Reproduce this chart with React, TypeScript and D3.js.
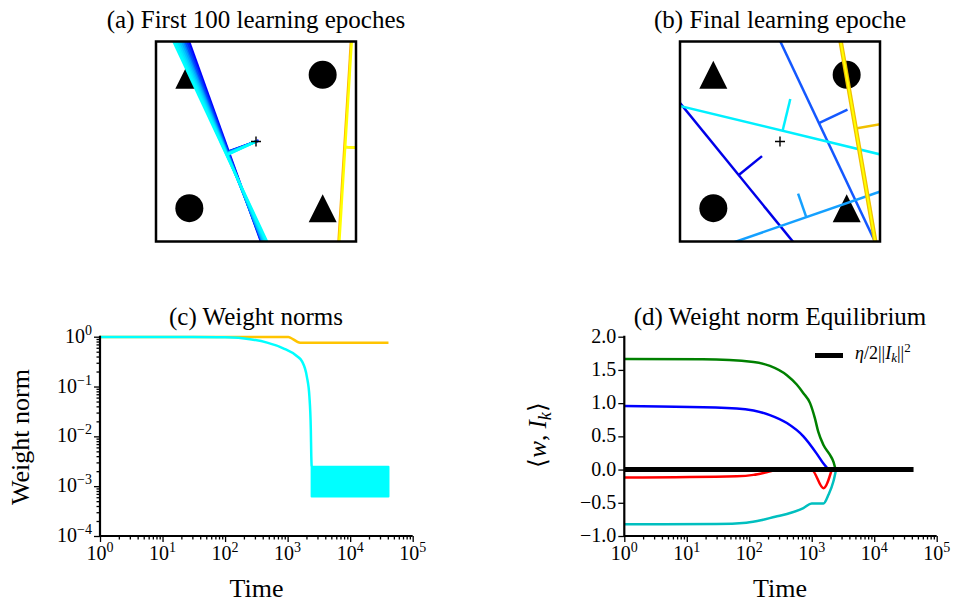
import React, { useRef, useEffect } from "react";
import * as d3 from "d3";

// (a) first 100 epochs: x where each boundary crosses the top (y=1.25) and bottom (y=-0.25) edge
const earlyTopX = [-0.0025, -0.0175, -0.0325, -0.0475, -0.059, -0.074, -0.089, -0.104, -0.119];
const earlyBottomX = [0.5375, 0.541, 0.545, 0.549, 0.5525, 0.56, 0.5675, 0.575, 0.5825];
const earlyColors = ["#0000ff", "#0028ff", "#0050ff", "#0080ff", "#00a8ff", "#00c8ff", "#00e0ff", "#00f2ff", "#00ffff"];
const yellowTopX = [1.212, 1.218];
const yellowBottomX = [1.119, 1.125];
const yellowColors = ["#ffb000", "#ffff00"];

// (b) final epoch: each boundary as two points, tick side (+1 = towards centre) and tick length
const finalX1 = [-0.2425, 0.5075, 0.2, -0.2425, 0.9575, 0.9575];
const finalY1 = [0.78, 1.2395, -0.24, 0.765, 1.235, 1.235];
const finalX2 = [0.588, 1.207, 1.2425, 1.2425, 1.2125, 1.2125];
const finalY2 = [-0.24, -0.24, 0.122, 0.405, -0.24, -0.24];
const finalSide = [1, -1, 1, -1, -1, -1];
const finalTick = [0.225, 0.237, 0.187, 0.245, 0.25, 0];
const finalColors = ["#0000e8", "#1458ff", "#14a0ff", "#00f0ff", "#f0c000", "#ffff00"];
const finalWidths = [2.5, 2.5, 2.5, 2.5, 4.5, 2];

// XOR points
const triangleX = [0, 1];
const triangleY = [1, 0];
const circleX = [1, 0];
const circleY = [1, 0];

// (c) weight norms
const goldT = [1, 1030, 1100, 1585, 41000];
const goldNorm = [0.99, 0.99, 0.96, 0.76, 0.76];
const cyanT = [1, 30, 100, 250, 470, 850, 1400, 1700, 2030, 2230, 2350, 2390, 2420];
const cyanNorm = [0.99, 0.985, 0.97, 0.89, 0.76, 0.585, 0.41, 0.32, 0.158, 0.063, 0.0136, 0.004, 0.0025];
const bandT = [2420, 41000];
const bandLow = [0.00062, 0.00062];
const bandHigh = [0.00245, 0.00245];

// (d) <w, I_k>
const greenT = [1, 18, 117, 214, 400, 575, 735, 940, 1125, 1270, 1540, 1960, 2220, 2410];
const greenV = [1.665, 1.66, 1.62, 1.56, 1.42, 1.28, 1.15, 1.0, 0.77, 0.57, 0.37, 0.22, 0.12, 0.0];
const blueT = [1, 63, 117, 214, 400, 735, 1200, 1540, 1850];
const blueV = [0.955, 0.92, 0.89, 0.82, 0.7, 0.5, 0.24, 0.09, 0.0];
const redT = [1, 63, 117, 190, 280, 1000, 1540, 2090];
const redV = [-0.12, -0.1, -0.08, -0.04, -0.005, -0.005, -0.28, 0.0];
const tealT = [1, 30, 90, 160, 260, 400, 735, 1000, 1540, 1850, 2220, 2450];
const tealV = [-0.825, -0.82, -0.8, -0.76, -0.71, -0.67, -0.58, -0.51, -0.51, -0.38, -0.18, 0.0];
const eqT = [1, 42600];
const eqV = [0, 0];

const xMajor = [1, 10, 100, 1000, 10000, 100000];
const normMajor = [1e-4, 1e-3, 1e-2, 1e-1, 1];
const eqTicks = [-1, -0.5, 0, 0.5, 1, 1.5, 2];

const FONT = "'Liberation Serif', 'Times New Roman', serif";

const zip = (a, b) => a.map((v, i) => [v, b[i]]);

const App = () => {
  const ref = useRef(null);

  useEffect(() => {
    const svg = d3.select(ref.current);
    svg.selectAll("*").remove();
    svg.attr("font-family", FONT);
    const defs = svg.append("defs");

    const title = (txt, cx, y) =>
      svg.append("text").attr("x", cx).attr("y", y).attr("text-anchor", "middle")
        .attr("font-size", 25).text(txt);

    title("(a) First 100 learning epoches", 256, 28);
    title("(b) Final learning epoche", 780, 28);
    title("(c) Weight norms", 256, 325);
    title("(d) Weight norm Equilibrium", 780, 325);

    // ---------- decision boundary panels ----------
    const boxPanel = (left, top, id) => {
      const size = 200;
      const x = d3.scaleLinear().domain([-0.25, 1.25]).range([left, left + size]);
      const y = d3.scaleLinear().domain([-0.25, 1.25]).range([top + size, top]);
      defs.append("clipPath").attr("id", id).append("rect")
        .attr("x", left).attr("y", top).attr("width", size).attr("height", size);
      const g = svg.append("g");
      const inner = g.append("g").attr("clip-path", `url(#${id})`);
      const tri = 28;
      inner.selectAll(".tri").data(zip(triangleX, triangleY)).join("path")
        .attr("d", `M0,${-tri / 2}L${tri / 2},${tri / 2}L${-tri / 2},${tri / 2}Z`)
        .attr("transform", d => `translate(${x(d[0])},${y(d[1])})`)
        .attr("fill", "black");
      inner.selectAll(".circ").data(zip(circleX, circleY)).join("circle")
        .attr("cx", d => x(d[0])).attr("cy", d => y(d[1])).attr("r", 14).attr("fill", "black");
      return { x, y, g, inner, left, top, size };
    };

    const perceptron = (p, x1, y1, x2, y2, color, width, side, len) => {
      const { x, y, inner } = p;
      const dx = x2 - x1, dy = y2 - y1, L = Math.hypot(dx, dy);
      const ux = dx / L, uy = dy / L;
      inner.append("line")
        .attr("x1", x(x1 - ux * 3)).attr("y1", y(y1 - uy * 3))
        .attr("x2", x(x2 + ux * 3)).attr("y2", y(y2 + uy * 3))
        .attr("stroke", color).attr("stroke-width", width);
      if (!len) return;
      const t = (0.5 - x1) * ux + (0.5 - y1) * uy;
      const fx = x1 + t * ux, fy = y1 + t * uy;
      let nx = -uy, ny = ux;
      if ((0.5 - fx) * nx + (0.5 - fy) * ny < 0) { nx = -nx; ny = -ny; }
      inner.append("line")
        .attr("x1", x(fx)).attr("y1", y(fy))
        .attr("x2", x(fx + side * nx * len)).attr("y2", y(fy + side * ny * len))
        .attr("stroke", color).attr("stroke-width", Math.min(width, 2.5));
    };

    const finishBox = p => {
      const c = 5;
      p.g.append("path")
        .attr("d", `M${p.x(0.5) - c},${p.y(0.5)}H${p.x(0.5) + c}M${p.x(0.5)},${p.y(0.5) - c}V${p.y(0.5) + c}`)
        .attr("stroke", "black").attr("stroke-width", 1.4);
      p.g.append("rect").attr("x", p.left).attr("y", p.top).attr("width", p.size).attr("height", p.size)
        .attr("fill", "none").attr("stroke", "black").attr("stroke-width", 2.5);
    };

    const pa = boxPanel(156, 41.5, "clipA");
    yellowTopX.forEach((tx, i) =>
      perceptron(pa, tx, 1.25, yellowBottomX[i], -0.25, yellowColors[i], 2.5, -1, 0.25));
    earlyTopX.forEach((tx, i) =>
      perceptron(pa, tx, 1.25, earlyBottomX[i], -0.25, earlyColors[i], 2.5, 1, 0.24));
    finishBox(pa);

    const pb = boxPanel(680, 41.5, "clipB");
    finalX1.forEach((_, i) =>
      perceptron(pb, finalX1[i], finalY1[i], finalX2[i], finalY2[i], finalColors[i], finalWidths[i], finalSide[i], finalTick[i]));
    finishBox(pb);

    // ---------- time series panels ----------
    const yTop = 336.7, yBot = 536;

    const logXAxis = (x) => {
      const minor = [];
      for (let e = 0; e < 5; e++) for (let k = 2; k < 10; k++) minor.push(k * 10 ** e);
      const ax = svg.append("g").attr("transform", `translate(0,${yBot})`);
      ax.append("g").call(d3.axisBottom(x).tickValues(minor).tickSize(3.5).tickSizeOuter(0).tickFormat(() => ""))
        .call(g => g.select(".domain").remove());
      ax.append("g").call(d3.axisBottom(x).tickValues(xMajor).tickSize(6).tickSizeOuter(0).tickFormat(() => ""))
        .call(g => g.select(".domain").remove());
      ax.selectAll("line").attr("stroke-width", 1.3);
      xMajor.forEach(v => {
        const t = ax.append("text").attr("x", x(v)).attr("y", 24).attr("text-anchor", "middle").attr("font-size", 20);
        t.append("tspan").text("10");
        t.append("tspan").attr("dy", -8).attr("font-size", 14).text(String(Math.round(Math.log10(v))));
      });
    };

    const spine = (x0, x1) =>
      svg.append("path").attr("d", `M${x0},${yTop - 1}V${yBot}H${x1}`)
        .attr("fill", "none").attr("stroke", "black").attr("stroke-width", 2.2);

    const xlab = cx => svg.append("text").attr("x", cx).attr("y", 597).attr("text-anchor", "middle")
      .attr("font-size", 26).text("Time");

    // (c)
    const xc = d3.scaleLog().domain([1, 1e5]).range([100, 412.7]);
    const yc = d3.scaleLog().domain([1e-4, 1]).range([yBot, yTop]);

    const lineC = d3.line().x(d => xc(d[0])).y(d => yc(d[1])).curve(d3.curveMonotoneX);
    svg.append("path").attr("d", lineC(zip(goldT, goldNorm)))
      .attr("fill", "none").attr("stroke", "#ffc400").attr("stroke-width", 2.5);
    svg.append("path").attr("d", lineC(zip(cyanT, cyanNorm)))
      .attr("fill", "none").attr("stroke", "#00ffff").attr("stroke-width", 2.5);
    const band = d3.area().x(d => xc(d.t)).y0(d => yc(d.lo)).y1(d => yc(d.hi));
    svg.append("path").attr("d", band(bandT.map((t, i) => ({ t, lo: bandLow[i], hi: bandHigh[i] }))))
      .attr("fill", "#00ffff").attr("stroke", "#00ffff").attr("stroke-width", 2)
      .attr("stroke-linejoin", "round");

    logXAxis(xc);
    const minorY = [];
    for (let e = -4; e < 0; e++) for (let k = 2; k < 10; k++) minorY.push(k * 10 ** e);
    const ayc = svg.append("g").attr("transform", "translate(100,0)");
    ayc.append("g").call(d3.axisLeft(yc).tickValues(minorY).tickSize(3.5).tickSizeOuter(0).tickFormat(() => ""))
      .call(g => g.select(".domain").remove());
    ayc.append("g").call(d3.axisLeft(yc).tickValues(normMajor).tickSize(6).tickSizeOuter(0).tickFormat(() => ""))
      .call(g => g.select(".domain").remove());
    ayc.selectAll("line").attr("stroke-width", 1.3);
    normMajor.forEach(v => {
      const e = Math.round(Math.log10(v));
      const t = ayc.append("text").attr("x", -8).attr("y", yc(v) + 6).attr("text-anchor", "end").attr("font-size", 20);
      t.append("tspan").text("10");
      t.append("tspan").attr("dy", -8).attr("font-size", 14).text(e === 0 ? "0" : "\u2212" + Math.abs(e));
    });
    spine(100, 412.7);
    xlab(256.5);
    svg.append("text").attr("transform", "translate(29,437) rotate(-90)")
      .attr("text-anchor", "middle").attr("font-size", 26).text("Weight norm");

    // (d)
    const xd = d3.scaleLog().domain([1, 1e5]).range([624.3, 936.7]);
    const yd = d3.scaleLinear().domain([-1, 2]).range([yBot, yTop]);
    const lineD = d3.line().x(d => xd(d[0])).y(d => yd(d[1])).curve(d3.curveMonotoneX);
    const series = [
      [greenT, greenV, "#008000"],
      [blueT, blueV, "#0000ff"],
      [redT, redV, "#ff0000"],
      [tealT, tealV, "#00bfbf"],
    ];
    series.forEach(([t, v, c]) =>
      svg.append("path").attr("d", lineD(zip(t, v)))
        .attr("fill", "none").attr("stroke", c).attr("stroke-width", 2.5));
    svg.append("path").attr("d", d3.line().x(d => xd(d[0])).y(d => yd(d[1]))(zip(eqT, eqV)))
      .attr("fill", "none").attr("stroke", "black").attr("stroke-width", 5);

    logXAxis(xd);
    const ayd = svg.append("g").attr("transform", "translate(624.3,0)");
    ayd.append("g").call(d3.axisLeft(yd).tickValues(eqTicks).tickSize(6).tickSizeOuter(0).tickFormat(() => ""))
      .call(g => g.select(".domain").remove());
    ayd.selectAll("line").attr("stroke-width", 1.3);
    const fmt = d3.format(".1f");
    eqTicks.forEach(v => {
      ayd.append("text").attr("x", -8).attr("y", yd(v) + 6).attr("text-anchor", "end")
        .attr("font-size", 20).text(fmt(v));
    });
    spine(624.3, 936.7);
    xlab(780);

    const yl = svg.append("text").attr("transform", "translate(546,435) rotate(-90)")
      .attr("text-anchor", "middle").attr("font-size", 25);
    yl.append("tspan").text("\u27e8");
    yl.append("tspan").attr("font-style", "italic").text("w");
    yl.append("tspan").text(", ");
    yl.append("tspan").attr("font-style", "italic").text("I");
    yl.append("tspan").attr("font-style", "italic").attr("font-size", 18).attr("dy", 5).text("k");
    yl.append("tspan").attr("dy", -5).text("\u27e9");

    // legend
    svg.append("line").attr("x1", 815).attr("x2", 843).attr("y1", 355.5).attr("y2", 355.5)
      .attr("stroke", "black").attr("stroke-width", 5);
    const lt = svg.append("text").attr("x", 855).attr("y", 359).attr("font-size", 18);
    lt.append("tspan").attr("font-style", "italic").text("\u03b7");
    lt.append("tspan").text("/2||");
    lt.append("tspan").attr("font-style", "italic").text("I");
    lt.append("tspan").attr("font-style", "italic").attr("font-size", 13).attr("dy", 3).text("k");
    lt.append("tspan").attr("dy", -3).text("||");
    lt.append("tspan").attr("font-size", 13).attr("dy", -7).text("2");
  }, []);

  return (
    <svg ref={ref} width={953} height={603}
      style={{ position: "absolute", left: 0, top: 0, display: "block", background: "white" }} />
  );
};

export default App;
